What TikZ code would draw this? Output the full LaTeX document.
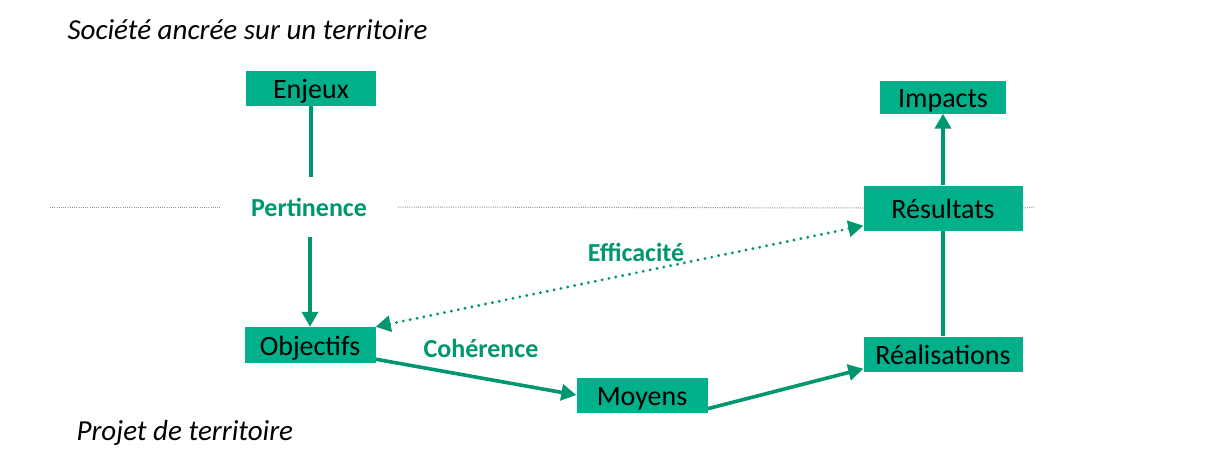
\documentclass[tikz,border=0pt]{standalone}
\usepackage{fontspec}
\setmainfont{Carlito}
\usetikzlibrary{arrows.meta}
\usetikzlibrary{positioning}
\definecolor{boxgreen}{RGB}{0,176,138}
\definecolor{linegreen}{RGB}{0,150,112}
\tikzset{
  box/.style = {
    fill=boxgreen,
    minimum height=35pt,
    inner sep=0pt,
    text height=20pt,
    text depth=0pt,
    font=\fontsize{28}{30}\selectfont
  },
  link/.style = {
    line width=3.6pt,
    draw=linegreen
  },
  arrow/.style = {
    link,
    -{Triangle[length=15pt,width=16pt]}
  },
  critere/.style = {
    font=\fontsize{26}{28}\selectfont\bfseries,
    text=linegreen
  },
  titre/.style = {
    anchor=west,
    font=\fontsize{29}{31}\selectfont\itshape
  },
  separation/.style = {
    draw=gray!85,
    line width=1pt,
    dash pattern=on 1pt off 1.2pt
  },
}

\begin{document}
\begin{tikzpicture}[x=1pt,y=-1pt]
  \useasboundingbox (0,0) rectangle (1226,455);

  \node [titre] (societe) at (64,30) {Société ancrée sur un territoire};
  \node [titre] (projet) at (73,433) {Projet de territoire};

  \node [box,minimum width=130pt] (enjeux) at (311,88) {Enjeux};
  \node [critere,fill=white,minimum width=158pt,minimum height=60pt,inner sep=0pt] (pertinence) at (309,207) {Pertinence};
  \node [box,minimum width=131pt,minimum height=36pt] (objectifs) at (310,345) {Objectifs};
  \node [box,minimum width=131pt] (moyens) at (642,395) {Moyens};
  \node [box,minimum width=159pt] (realisations) at (943,354) {Réalisations};
  \node [box,minimum width=159pt,minimum height=45pt] (resultats) at (943,208) {Résultats};
  \node [box,minimum width=126pt,minimum height=33pt] (impacts) at (943,97) {Impacts};

  \coordinate (sep-left) at (50,207);
  \coordinate (sep-right) at (1035,207);

  % separation between society and project
  \draw [separation] (sep-left) -- ([xshift=-10pt]pertinence.west);
  \draw [separation] ([xshift=10pt]pertinence.east) -- (resultats.west);
  \draw [separation] (resultats.east) -- (sep-right);

  \draw [link] (enjeux.south) -- (enjeux |- pertinence.north);
  \draw [arrow] (objectifs |- pertinence.south) -- (objectifs.north);

  \draw [arrow] ([yshift=4pt]objectifs.south east) -- (moyens.west);
  \draw [arrow] ([yshift=4pt]moyens.south east) -- ([yshift=3pt]realisations.south west);
  \draw [link] (realisations.north) -- (resultats.south);
  \draw [arrow] (resultats.north) -- (impacts.south);

  \draw [link,line width=3.2pt,line cap=round,dash pattern=on 0pt off 7pt,
         {Triangle[length=15pt,width=16pt]}-{Triangle[length=15pt,width=16pt]}]
    (objectifs.north east) -- ([yshift=5pt]resultats.south west);

  \node [critere] (coherence) at (481,348) {Cohérence};
  \node [critere] (efficacite) at (636,252) {Efficacité};
\end{tikzpicture}
\end{document}
